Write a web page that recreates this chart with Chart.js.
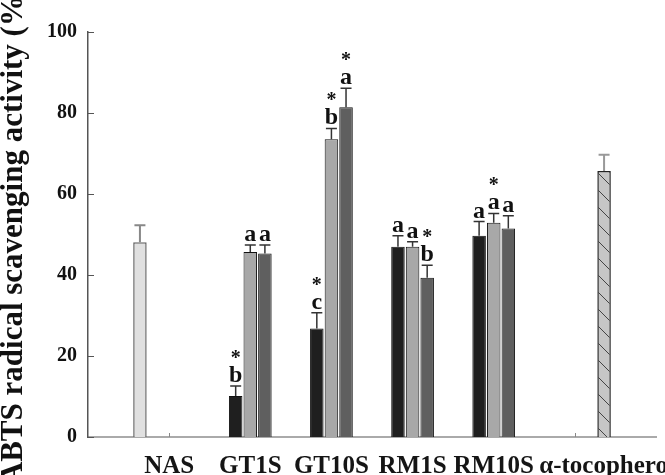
<!DOCTYPE html>
<html>
<head>
<meta charset="utf-8">
<script src="https://cdn.jsdelivr.net/npm/chart.js@4.4.1/dist/chart.umd.min.js"></script>
<style>
  body { margin: 0; background: #fff; }
</style>
</head>
<body>
<canvas id="myChart" width="665" height="475"></canvas>
<script>
// categories (first and last are empty slots at the axis ends)
var categories = ['', 'NAS', 'GT1S', 'GT10S', 'RM1S', 'RM10S', 'α-tocopherol', ''];

var nasValues = [null, 48.1, null, null, null, null, null, null];
var nasErrors = [null, 4.2, null, null, null, null, null, null];

var blackValues = [null, null, 10.1, 26.8, 47.0, 49.7, null, null];
var blackErrors = [null, null, 2.5, 3.9, 2.7, 3.5, null, null];
var blackLetters = [null, null, 'b', 'c', 'a', 'a', null, null];
var blackStars = [false, false, true, true, false, false, false, false];

var lightValues = [null, null, 45.7, 73.5, 47.0, 52.9, null, null];
var lightErrors = [null, null, 1.7, 2.7, 1.2, 2.3, null, null];
var lightLetters = [null, null, 'a', 'b', 'a', 'a', null, null];
var lightStars = [false, false, false, true, false, true, false, false];

var darkValues = [null, null, 45.3, 81.4, 39.3, 51.5, null, null];
var darkErrors = [null, null, 2.1, 4.7, 3.1, 3.1, null, null];
var darkLetters = [null, null, 'a', 'a', 'b', 'a', null, null];
var darkStars = [false, false, false, true, true, false, false, false];

var tocoValues = [null, null, null, null, null, null, 65.7, null];
var tocoErrors = [null, null, null, null, null, null, 4.0, null];

var yTicks = [0, 20, 40, 60, 80, 100];

var serif = '"Liberation Serif", "Times New Roman", serif';

function hatch() {
    var c = document.createElement('canvas');
    c.width = 17; c.height = 17;
    var g = c.getContext('2d');
    g.fillStyle = '#c6c6c6';
    g.fillRect(0, 0, 17, 17);
    g.strokeStyle = '#444';
    g.lineWidth = 1;
    g.beginPath();
    g.moveTo(0, 0); g.lineTo(17, 17);
    g.moveTo(-2, 15); g.lineTo(2, 19);
    g.moveTo(15, -2); g.lineTo(19, 2);
    g.stroke();
    return g.createPattern(c, 'repeat');
}

// error bars + significance letters
var errorBars = {
    id: 'errorBars',
    afterDatasetsDraw: function(chart) {
        var ctx = chart.ctx;
        var y = chart.scales.y;
        chart.data.datasets.forEach(function(ds, di) {
            var meta = chart.getDatasetMeta(di);
            meta.data.forEach(function(bar, i) {
                var v = ds.data[i];
                if (v === null || v === undefined) return;
                var top = y.getPixelForValue(v + ds.errors[i]);
                ctx.save();
                ctx.strokeStyle = ds.errColor;
                ctx.lineWidth = ds.errWidth;
                ctx.beginPath();
                ctx.moveTo(bar.x, bar.y);
                ctx.lineTo(bar.x, top);
                ctx.moveTo(bar.x - 5.5, top);
                ctx.lineTo(bar.x + 5.5, top);
                ctx.stroke();
                if (ds.letters && ds.letters[i]) {
                    var base = top - 4;
                    ctx.fillStyle = '#111';
                    ctx.textAlign = 'center';
                    ctx.textBaseline = 'alphabetic';
                    ctx.font = 'bold 24px ' + serif;
                    ctx.fillText(ds.letters[i], bar.x, base);
                    if (ds.stars[i]) {
                        ctx.font = 'bold 20px ' + serif;
                        ctx.fillText('*', bar.x, base - 18);
                    }
                }
                ctx.restore();
            });
        });
    }
};

// inward tick marks and category labels
var axisExtras = {
    id: 'axisExtras',
    afterDraw: function(chart) {
        var ctx = chart.ctx;
        var xs = chart.scales.x, ys = chart.scales.y;
        var area = chart.chartArea;
        ctx.save();
        ctx.strokeStyle = '#555';
        ctx.lineWidth = 1;
        yTicks.forEach(function(t) {
            var py = Math.round(ys.getPixelForValue(t)) + 0.5;
            ctx.beginPath();
            ctx.moveTo(area.left, py);
            ctx.lineTo(area.left + 6, py);
            ctx.stroke();
        });
        ctx.strokeStyle = '#888';
        [1, 6].forEach(function(i) {
            var px = Math.round(xs.getPixelForValue(i)) + 0.5;
            ctx.beginPath();
            ctx.moveTo(px, area.bottom);
            ctx.lineTo(px, area.bottom - 4);
            ctx.stroke();
        });

        var tocoMeta = chart.getDatasetMeta(4);
        ctx.fillStyle = '#151515';
        ctx.font = 'bold 25px ' + serif;
        ctx.textAlign = 'center';
        ctx.textBaseline = 'alphabetic';
        categories.forEach(function(cat, i) {
            if (!cat) return;
            var px = xs.getPixelForValue(i);
            if (cat === 'α-tocopherol') px = tocoMeta.data[i].x + 3;
            ctx.fillText(cat, px, 473);
        });
        ctx.restore();
    }
};

var ctx = document.getElementById('myChart').getContext('2d');
var myChart = new Chart(ctx, {
    type: 'bar',
    data: {
        labels: categories,
        datasets: [{
            label: 'NAS',
            data: nasValues,
            errors: nasErrors,
            backgroundColor: '#e0e0e0',
            borderColor: '#666',
            borderWidth: 1.5,
            errColor: '#888',
            errWidth: 2
        }, {
            label: 'black',
            data: blackValues,
            errors: blackErrors,
            letters: blackLetters,
            stars: blackStars,
            backgroundColor: '#1f1f1f',
            borderColor: '#111',
            borderWidth: 1,
            errColor: '#333',
            errWidth: 1.5
        }, {
            label: 'light',
            data: lightValues,
            errors: lightErrors,
            letters: lightLetters,
            stars: lightStars,
            backgroundColor: '#a8a8a8',
            borderColor: '#111',
            borderWidth: 1,
            errColor: '#333',
            errWidth: 1.5
        }, {
            label: 'dark',
            data: darkValues,
            errors: darkErrors,
            letters: darkLetters,
            stars: darkStars,
            backgroundColor: '#5f5f5f',
            borderColor: '#111',
            borderWidth: 1,
            errColor: '#333',
            errWidth: 1.5
        }, {
            label: 'α-tocopherol',
            data: tocoValues,
            errors: tocoErrors,
            backgroundColor: hatch(),
            borderColor: '#222',
            borderWidth: 1.5,
            errColor: '#999',
            errWidth: 2
        }]
    },
    options: {
        responsive: false,
        animation: false,
        devicePixelRatio: 1,
        layout: { padding: { top: 32, right: 9, bottom: 0, left: 0 } },
        datasets: { bar: { categoryPercentage: 0.9, barPercentage: 0.925 } },
        plugins: {
            legend: { display: false },
            tooltip: { enabled: false }
        },
        scales: {
            x: {
                type: 'category',
                offset: false,
                grid: { display: false },
                border: { color: '#aaa', width: 2 },
                ticks: { display: false },
                afterFit: function(s) { s.height = 38; }
            },
            y: {
                min: 0,
                max: 100,
                grid: { display: false, drawTicks: false },
                border: { color: '#555', width: 1.5 },
                ticks: {
                    stepSize: 20,
                    padding: 11,
                    color: '#111',
                    font: { family: serif, size: 20, weight: 'bold' }
                },
                title: {
                    display: true,
                    text: 'ABTS radical scavenging activity (%)',
                    color: '#111',
                    padding: 0,
                    font: { family: serif, size: 31, weight: 'bold', lineHeight: 0.9 }
                },
                afterFit: function(s) { s.width = 88; }
            }
        }
    },
    plugins: [errorBars, axisExtras]
});
</script>
</body>
</html>
